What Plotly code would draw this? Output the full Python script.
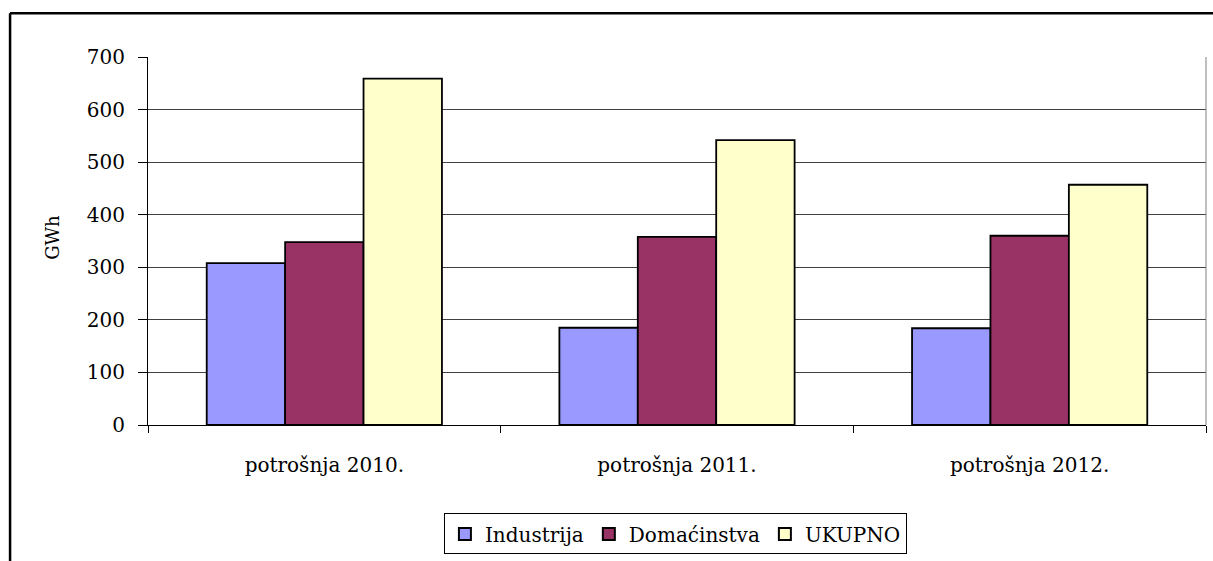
import plotly.graph_objects as go

categories = ["potrošnja 2010.", "potrošnja 2011.", "potrošnja 2012."]
industrija = [308, 185, 184]
domacinstva = [348, 358, 360]
ukupno = [659, 542, 457]
series_names = ["Industrija", "Domaćinstva", "UKUPNO"]
series_colors = ["#9999FF", "#993366", "#FFFFCC"]
y_ticks = [0, 100, 200, 300, 400, 500, 600, 700]

W, H = 1213, 561
L, R, T, B = 147.5, 7, 56.5, 134
pw, ph = W - L - R, H - T - B

def px_x(px):
    return (px - L) / pw

def px_y(py):
    return (H - B - py) / ph

FONT = "DejaVu Serif"

fig = go.Figure()
for name, vals, col in zip(series_names, [industrija, domacinstva, ukupno], series_colors):
    fig.add_trace(go.Bar(
        x=categories, y=vals, name=name,
        marker=dict(color=col, line=dict(color="#000000", width=1.8)),
    ))

fig.update_layout(
    width=W, height=H,
    margin=dict(l=L, r=R, t=T, b=B, pad=0),
    paper_bgcolor="white", plot_bgcolor="white",
    barmode="group", bargap=0.333, bargroupgap=0,
    font=dict(family=FONT, color="#000000", size=20),
    showlegend=True,
    legend=dict(
        orientation="h", x=0.4985, y=px_y(516), xanchor="center", yanchor="top",
        bgcolor="white", bordercolor="#000000", borderwidth=1,
        font=dict(family=FONT, size=20, color="#000000"),
        itemsizing="constant",
    ),
    xaxis=dict(
        showline=True, linecolor="#000000", linewidth=1,
        ticks="outside", tickson="boundaries", ticklen=7, tickcolor="#000000",
        ticklabelstandoff=22,
        tickfont=dict(family=FONT, size=20, color="#000000"),
        showgrid=False, zeroline=False,
    ),
    yaxis=dict(
        range=[0, 700], tickvals=y_ticks,
        showline=True, linecolor="#000000", linewidth=1,
        ticks="outside", ticklen=9, tickcolor="#000000",
        ticklabelstandoff=9,
        tickfont=dict(family=FONT, size=20, color="#000000"),
        showgrid=True, gridcolor="#404040", gridwidth=1,
        zeroline=False,
    ),
    annotations=[dict(
        text="GWh", xref="paper", yref="paper",
        x=px_x(52), y=px_y(238), xanchor="center", yanchor="middle",
        textangle=-90, showarrow=False,
        font=dict(family=FONT, size=18, color="#000000"),
    )],
    shapes=[
        # right border of plot area
        dict(type="line", xref="paper", yref="paper", x0=1, x1=1, y0=0, y1=1,
             line=dict(color="#808080", width=1)),
        # outer frame: top and left edges
        dict(type="line", xref="paper", yref="paper",
             x0=px_x(9.5), x1=px_x(1220), y0=px_y(12.5), y1=px_y(12.5),
             line=dict(color="#000000", width=2.5)),
        dict(type="line", xref="paper", yref="paper",
             x0=px_x(9.5), x1=px_x(9.5), y0=px_y(12.5), y1=px_y(570),
             line=dict(color="#000000", width=2.5)),
    ],
)

fig.write_html(
    "out.html",
    config={"displayModeBar": False},
    post_script="document.body.style.margin='0';document.body.style.overflow='hidden';",
)
